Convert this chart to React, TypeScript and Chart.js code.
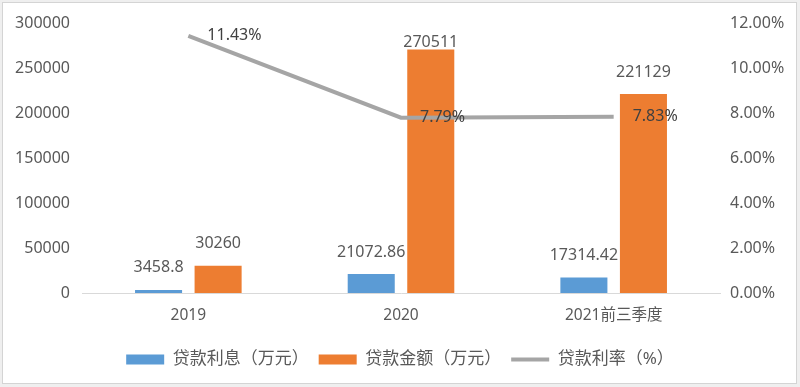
import React, { useEffect, useRef } from "react";
import { Chart, registerables } from "chart.js";

Chart.register(...registerables);

const categories = ["2019", "2020", "2021前三季度"];
const interestValues = [3458.8, 21072.86, 17314.42];
const amountValues = [30260, 270511, 221129];
const rateValues = [11.43, 7.79, 7.83];
const seriesNames = ["贷款利息（万元）", "贷款金额（万元）", "贷款利率（%）"];
const leftTickMax = 300000;
const leftTickStep = 50000;
const rightTickMax = 12;
const rightTickStep = 2;

const FONT = "'Noto Sans', 'Noto Sans CJK SC', sans-serif";
const TEXT = "#595959";
const BLUE = "#5B9BD5";
const ORANGE = "#ED7D31";
const GRAY = "#A5A5A5";

const framePlugin = {
  id: "frame",
  beforeDraw(chart: any) {
    const { ctx, width, height } = chart;
    ctx.save();
    ctx.fillStyle = "#efefef";
    ctx.fillRect(0, 0, width, height);
    ctx.fillStyle = "#ffffff";
    ctx.fillRect(2, 2, width - 5, height - 5);
    ctx.strokeStyle = "#d4d4d4";
    ctx.lineWidth = 1;
    ctx.strokeRect(2.5, 2.5, width - 6, height - 6);
    ctx.restore();
  },
};

const labelPlugin = {
  id: "valueLabels",
  afterDatasetsDraw(chart: any) {
    const { ctx, chartArea } = chart;
    ctx.save();
    ctx.font = `16px ${FONT}`;
    ctx.fillStyle = TEXT;
    chart.data.datasets.forEach((ds: any, di: number) => {
      const meta = chart.getDatasetMeta(di);
      meta.data.forEach((el: any, i: number) => {
        const v = ds.data[i];
        if (ds.type === "line") {
          ctx.textAlign = "left";
          ctx.textBaseline = "middle";
          ctx.fillStyle = "#404040";
          ctx.fillText(v.toFixed(2) + "%", el.x + 19, el.y);
        } else {
          ctx.textAlign = "center";
          ctx.textBaseline = "middle";
          ctx.fillStyle = TEXT;
          const y = Math.max(el.y - 22, chartArea.top + 19);
          ctx.fillText(String(v), el.x, y);
        }
      });
    });
    ctx.restore();
  },
};

export default function App() {
  const ref = useRef<HTMLCanvasElement>(null);
  useEffect(() => {
    if (!ref.current) return;
    const chart = new Chart(ref.current, {
      type: "bar",
      data: {
        labels: categories,
        datasets: [
          {
            type: "bar",
            label: seriesNames[0],
            data: interestValues,
            backgroundColor: BLUE,
            yAxisID: "y",
            order: 1,
            categoryPercentage: 0.56,
            barPercentage: 0.79,
          } as any,
          {
            type: "bar",
            label: seriesNames[1],
            data: amountValues,
            backgroundColor: ORANGE,
            yAxisID: "y",
            order: 1,
            categoryPercentage: 0.56,
            barPercentage: 0.79,
          } as any,
          {
            type: "line",
            label: seriesNames[2],
            data: rateValues,
            borderColor: GRAY,
            backgroundColor: GRAY,
            borderWidth: 4,
            pointRadius: 0,
            tension: 0,
            yAxisID: "y1",
            order: 0,
          } as any,
        ],
      },
      options: {
        animation: false,
        responsive: false,
        maintainAspectRatio: false,
        layout: { padding: { left: 0, right: 0, top: 23, bottom: 9 } },
        plugins: {
          tooltip: { enabled: false },
          legend: {
            position: "bottom",
            labels: {
              font: { family: FONT, size: 17 },
              color: TEXT,
              padding: 10,
              boxWidth: 38,
              boxHeight: 10,
              usePointStyle: true,
              pointStyleWidth: 38,
              sort: (a: any, b: any) => a.datasetIndex - b.datasetIndex,
              generateLabels: (c: any) => {
                const items = (Chart.defaults.plugins.legend.labels as any).generateLabels(c);
                return items.map((it: any) => {
                  if (it.datasetIndex === 2) {
                    return { ...it, pointStyle: "line", lineWidth: 4, strokeStyle: GRAY, fillStyle: GRAY };
                  }
                  return { ...it, pointStyle: "rect", lineWidth: 0, strokeStyle: it.fillStyle };
                });
              },
            },
          },
        },
        scales: {
          x: {
            grid: { display: false, drawTicks: false },
            border: { display: true, color: "#d9d9d9", width: 1 },
            ticks: { font: { family: FONT, size: 15.5 }, color: TEXT, padding: 13 },
            afterFit: (s: any) => {
              s.height = 48;
            },
          },
          y: {
            position: "left",
            min: 0,
            max: leftTickMax,
            grid: { display: false, drawTicks: false },
            border: { display: false },
            ticks: {
              stepSize: leftTickStep,
              font: { family: FONT, size: 16 },
              color: TEXT,
              padding: 12,
              callback: (v: any) => String(v),
            },
            afterFit: (s: any) => {
              s.width = 82;
            },
          },
          y1: {
            position: "right",
            min: 0,
            max: rightTickMax,
            grid: { display: false, drawTicks: false },
            border: { display: false },
            ticks: {
              stepSize: rightTickStep,
              font: { family: FONT, size: 16 },
              color: TEXT,
              padding: 10,
              callback: (v: any) => Number(v).toFixed(2) + "%",
            },
            afterFit: (s: any) => {
              s.width = 80;
            },
          },
        },
      },
      plugins: [framePlugin, labelPlugin],
    });
    return () => chart.destroy();
  }, []);
  return (
    <div style={{ position: "absolute", left: 0, top: 0, width: 800, height: 387 }}>
      <canvas ref={ref} width={800} height={387} style={{ width: 800, height: 387, display: "block" }} />
    </div>
  );
}
